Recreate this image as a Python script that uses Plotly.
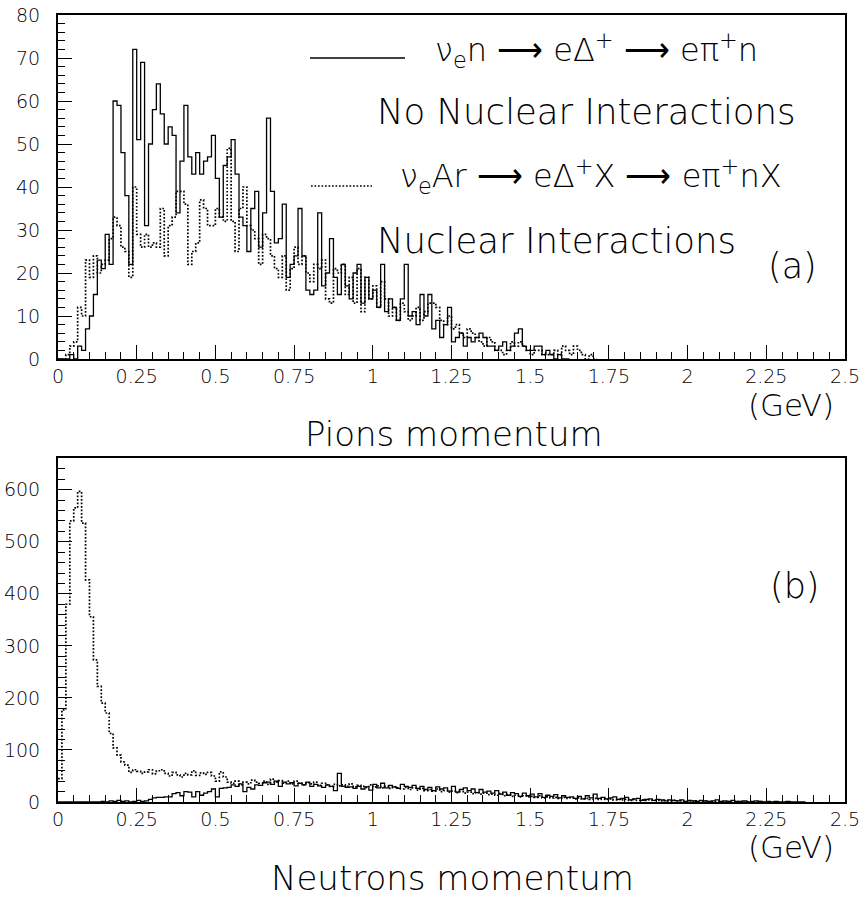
import plotly.graph_objects as go

# Histogram binning (GeV)
bin_width = 0.0125

# Pion momentum, nu_e n -> e Delta+ -> e pi+ n (no nuclear interactions)
pion_free = [
    0, 0, 0, 1, 0, 3, 2, 7, 10, 15,
    23, 21, 29, 22, 60, 59, 48, 38, 22, 72,
    51, 69, 31, 50, 58, 64, 57, 50, 54, 52,
    34, 46, 59, 47, 43, 48, 43, 46, 47, 52,
    42, 33, 45, 47, 51, 43, 33, 31, 25, 35,
    39, 26, 34, 56, 39, 27, 28, 36, 19, 22,
    24, 35, 24, 16, 15, 16, 34, 17, 20, 28,
    19, 15, 22, 17, 14, 20, 22, 13, 19, 14,
    16, 12, 22, 11, 14, 12, 9, 14, 22, 10,
    11, 8, 15, 10, 15, 7, 9, 5, 8, 12,
    4, 5, 6, 3, 5, 4, 5, 6, 5, 3,
    3, 2, 3, 4, 2, 3, 6, 7, 3, 2,
    2, 3, 3, 1, 2, 1, 0, 1, 0, 0,
]

# Pion momentum, nu_e Ar -> e Delta+ X -> e pi+ n X (with nuclear interactions)
pion_nuclear = [
    0, 0, 1, 3, 4, 12, 10, 23, 19, 24,
    20, 22, 23, 28, 33, 31, 26, 25, 19, 40,
    29, 26, 29, 26, 27, 26, 35, 24, 31, 33,
    39, 39, 36, 22, 25, 27, 37, 35, 31, 31,
    35, 33, 32, 49, 32, 25, 35, 40, 31, 30,
    28, 22, 29, 28, 24, 21, 19, 24, 16, 21,
    26, 22, 24, 20, 18, 22, 21, 23, 14, 13,
    21, 20, 22, 15, 19, 13, 21, 11, 19, 14,
    17, 12, 18, 14, 10, 12, 9, 13, 11, 9,
    10, 12, 9, 11, 13, 13, 12, 9, 8, 10,
    7, 8, 6, 5, 7, 6, 5, 4, 3, 5,
    4, 2, 2, 1, 2, 4, 3, 4, 3, 2,
    1, 2, 2, 1, 1, 1, 2, 1, 3, 2,
    1, 3, 2, 1, 0, 1, 0,
]

# Neutron momentum, free nucleon target
neutron_free = [
    0, 0, 0, 0, 0, 0, 0, 0, 0, 0,
    0, 1, 0, 2, 1, 3, 1, 2, 0, 1,
    3, 1, 2, 5, 8, 9, 9, 10, 10, 16,
    18, 12, 20, 19, 10, 20, 13, 17, 20, 25,
    10, 26, 27, 28, 33, 30, 35, 20, 28, 25,
    33, 32, 37, 38, 34, 40, 30, 38, 35, 37,
    31, 36, 33, 38, 30, 34, 31, 28, 33, 30,
    22, 55, 30, 28, 29, 26, 30, 25, 29, 23,
    34, 27, 36, 27, 32, 29, 26, 34, 30, 28,
    32, 26, 30, 24, 28, 22, 29, 25, 27, 21,
    30, 19, 24, 27, 22, 25, 18, 24, 19, 21,
    17, 22, 15, 19, 13, 18, 16, 11, 17, 12,
    15, 10, 16, 9, 13, 11, 14, 8, 12, 9,
    10, 7, 11, 6, 12, 8, 15, 7, 9, 6,
    8, 10, 5, 7, 9, 4, 6, 7, 3, 5,
    6, 3, 5, 4, 2, 4, 3, 2, 4, 1,
    3, 2, 1, 3, 2, 1, 2, 4, 1, 2,
    1, 3, 1, 1, 2, 0, 1, 2, 1, 0,
    1, 0, 1, 0, 0, 1, 0, 0, 0, 0,
]

# Neutron momentum, argon target
neutron_nuclear = [
    45, 177, 380, 540, 565, 597, 536, 427, 356, 273,
    222, 190, 171, 132, 104, 90, 77, 71, 57, 62,
    59, 55, 58, 62, 54, 60, 62, 55, 50, 57,
    52, 48, 55, 52, 60, 51, 56, 53, 57, 50,
    40, 58, 48, 38, 36, 40, 33, 38, 35, 42,
    38, 36, 40, 34, 44, 38, 41, 36, 40, 35,
    40, 36, 33, 37, 35, 38, 32, 36, 33, 30,
    34, 31, 33, 30, 35, 29, 32, 30, 28, 33,
    29, 31, 27, 30, 26, 29, 27, 25, 28, 24,
    27, 23, 26, 22, 24, 21, 25, 20, 22, 19,
    21, 18, 20, 17, 19, 16, 18, 15, 17, 14,
    15, 13, 16, 12, 14, 11, 13, 10, 12, 10,
    11, 9, 12, 8, 10, 8, 9, 7, 9, 7,
    8, 6, 8, 6, 7, 5, 7, 5, 6, 5,
    6, 4, 5, 4, 5, 3, 5, 3, 4, 3,
    4, 3, 3, 2, 3, 2, 3, 2, 2, 1,
    2, 1, 2, 1, 2, 1, 1, 1, 1, 0,
    1, 0, 1, 1, 0, 1, 0, 0, 1, 0,
]

x_tick_vals = [0, 0.25, 0.5, 0.75, 1, 1.25, 1.5, 1.75, 2, 2.25, 2.5]
x_tick_text = ["0", "0.25", "0.5", "0.75", "1", "1.25", "1.5", "1.75", "2", "2.25", "2.5"]
top_y_ticks = [0, 10, 20, 30, 40, 50, 60, 70, 80]
bottom_y_ticks = [0, 100, 200, 300, 400, 500, 600]

W, H = 866, 897
FONT = "DejaVu Sans"
DOTS = "1.7px,1.8px"


def px(x):
    return x / W


def py(y):
    return 1 - y / H


def step_trace(values, dash, width, xaxis, yaxis):
    edges = [i * bin_width for i in range(len(values) + 1)]
    return go.Scatter(
        x=edges,
        y=list(values) + [values[-1]],
        mode="lines",
        line=dict(shape="hv", color="black", width=width, dash=dash),
        xaxis=xaxis,
        yaxis=yaxis,
        hoverinfo="skip",
        showlegend=False,
    )


fig = go.Figure()
fig.add_trace(step_trace(pion_nuclear, DOTS, 1.7, "x", "y"))
fig.add_trace(step_trace(pion_free, "solid", 1.3, "x", "y"))
fig.add_trace(step_trace(neutron_nuclear, DOTS, 1.7, "x2", "y2"))
fig.add_trace(step_trace(neutron_free, "solid", 1.3, "x2", "y2"))

x_dom = [px(58), px(845)]


def xaxis_style(anchor):
    return dict(
        domain=x_dom, anchor=anchor, range=[0, 2.5],
        tickvals=x_tick_vals, ticktext=x_tick_text,
        ticks="inside", ticklen=14, tickwidth=1, tickcolor="black",
        minor=dict(dtick=0.05, ticks="inside", ticklen=7, tickwidth=1, tickcolor="black"),
        showline=True, linecolor="black", linewidth=2, mirror=True,
        showgrid=False, zeroline=False, automargin=False,
        tickfont=dict(family=FONT, size=19, color="black", weight=200),
        ticklabelstandoff=-1,
    )


def yaxis_style(anchor, rng, ticks, minor_step, dom):
    return dict(
        domain=dom, anchor=anchor, range=rng,
        tickvals=ticks,
        ticks="inside", ticklen=14, tickwidth=1, tickcolor="black",
        minor=dict(dtick=minor_step, ticks="inside", ticklen=7, tickwidth=1, tickcolor="black"),
        showline=True, linecolor="black", linewidth=2, mirror=True,
        showgrid=False, zeroline=False, automargin=False,
        tickfont=dict(family=FONT, size=19, color="black", weight=200),
        ticklabelstandoff=12,
    )


annotations = []


def label(text, x, y, size, xanchor="left"):
    annotations.append(dict(
        text=text, x=px(x), y=py(y), xref="paper", yref="paper",
        xanchor=xanchor, yanchor="middle", showarrow=False,
        font=dict(family=FONT, size=size, color="black", weight=200),
    ))


label("ν<sub>e</sub>n ⟶ eΔ<sup>+</sup> ⟶ eπ<sup>+</sup>n", 433, 50, 32)
label("No Nuclear Interactions", 375, 112, 35.5)
label("ν<sub>e</sub>Ar ⟶ eΔ<sup>+</sup>X ⟶ eπ<sup>+</sup>nX", 398, 176, 32)
label("Nuclear Interactions", 375, 240, 35.5)
label("(a)", 766, 266, 35)
label("(b)", 768, 586, 35)
label("(GeV)", 746, 405, 31)
label("(GeV)", 746, 847, 31)
label("Pions momentum", 454, 434, 34, xanchor="center")
label("Neutrons momentum", 452, 878, 34, xanchor="center")

shapes = [
    dict(type="line", xref="paper", yref="paper", x0=px(310), x1=px(405), y0=py(58), y1=py(58),
         line=dict(color="black", width=1.3)),
    dict(type="line", xref="paper", yref="paper", x0=px(311), x1=px(372), y0=py(186), y1=py(186),
         line=dict(color="black", width=1.7, dash=DOTS)),
]

fig.update_layout(
    width=W, height=H,
    margin=dict(l=0, r=0, t=0, b=0, pad=0, autoexpand=False),
    paper_bgcolor="white", plot_bgcolor="white",
    font=dict(family=FONT, color="black"),
    xaxis=xaxis_style("y"),
    yaxis=yaxis_style("x", [0, 80], top_y_ticks, 2, [py(359), py(15)]),
    xaxis2=xaxis_style("y2"),
    yaxis2=yaxis_style("x2", [0, 661], bottom_y_ticks, 20, [py(802), py(458)]),
    annotations=annotations,
    shapes=shapes,
    showlegend=False,
)

fig.write_html("out.html")
